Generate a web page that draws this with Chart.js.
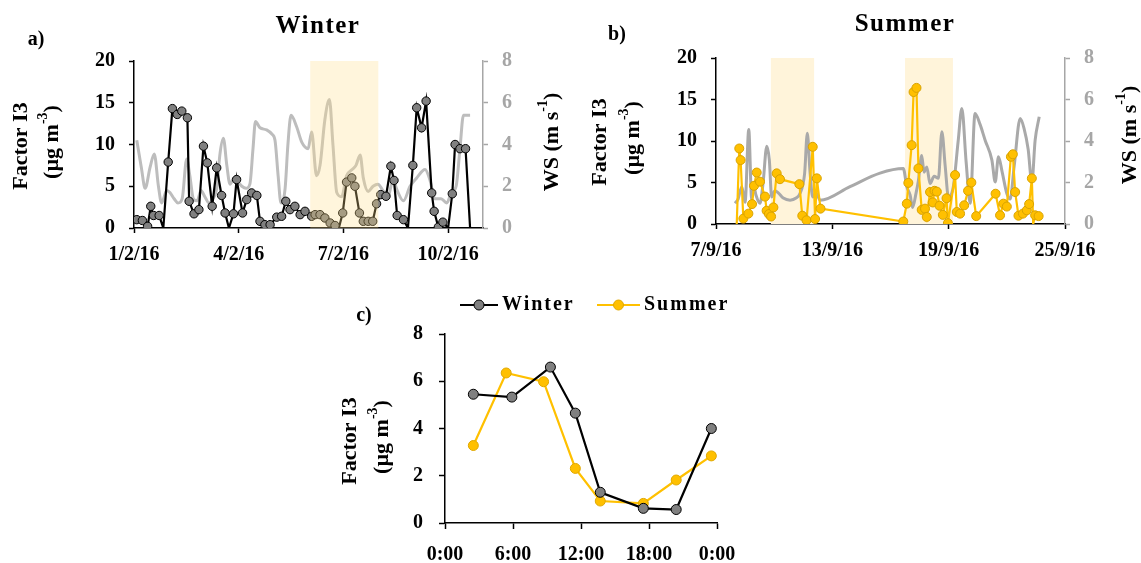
<!DOCTYPE html>
<html>
<head>
<meta charset="utf-8">
<script src="https://cdn.jsdelivr.net/npm/chart.js@4/dist/chart.umd.min.js"></script>
<style>
  html, body { margin: 0; padding: 0; background: #fff; }
  body { width: 1141px; height: 563px; position: relative; overflow: hidden; }
  canvas { position: absolute; }
</style>
</head>
<body>
<canvas id="ca" width="570" height="275" style="left:0;top:0"></canvas>
<canvas id="cb" width="571" height="275" style="left:570px;top:0"></canvas>
<canvas id="cc" width="420" height="283" style="left:330px;top:280px"></canvas>
<script>
// ---------- a) Winter: Factor I3 (days after 1 Feb 2016) ----------
const winterDays = [0.08, 0.24, 0.39, 0.48, 0.56, 0.72, 0.84, 0.98, 1.10, 1.24, 1.37, 1.53, 1.58, 1.72, 1.86,
  1.99, 2.10, 2.24, 2.37, 2.51, 2.61, 2.72, 2.85, 2.94, 3.11, 3.23, 3.37, 3.52, 3.61, 3.75, 3.90, 4.09, 4.23,
  4.35, 4.47, 4.61, 4.76, 4.90, 5.09, 5.19, 5.33, 5.47, 5.62, 5.76, 5.87, 5.98, 6.09, 6.24, 6.33, 6.46, 6.57,
  6.71, 6.84, 6.95, 7.07, 7.22, 7.36, 7.45, 7.54, 7.72, 7.85, 7.99, 8.10, 8.24, 8.37, 8.53, 8.60, 8.72, 8.85,
  9.00, 9.12, 9.20, 9.34, 9.50, 9.63];
const winterI3 = [1.0, 0.9, 0.2, 2.6, 1.5, 1.5, 0, 7.9, 14.3, 13.6, 14.0, 13.2, 3.2, 1.7, 2.2,
  9.8, 7.8, 2.6, 7.2, 3.9, 1.8, 0, 1.7, 5.8, 1.8, 3.4, 4.2, 3.9, 0.8, 0.4, 0.4, 1.3, 1.4,
  3.2, 2.2, 2.6, 1.6, 2.0, 1.4, 1.6, 1.6, 1.2, 0.6, 0.3, 0, 1.8, 5.5, 6.0, 5.0, 1.8, 0.8,
  0.8, 0.8, 2.9, 4.0, 3.8, 7.4, 5.7, 1.5, 1.0, 0, 7.5, 14.4, 12.0, 15.2, 4.2, 2.0, 0.1, 0.7,
  0, 4.1, 10.0, 9.5, 9.5, 0];
// ---------- a) Winter: wind speed ----------
const winterWsDays = [0.08, 0.21, 0.32, 0.46, 0.58, 0.70, 0.79, 0.94, 1.03, 1.15, 1.26, 1.38, 1.51, 1.60, 1.70,
  1.81, 1.92, 2.03, 2.15, 2.26, 2.38, 2.46, 2.56, 2.66, 2.75, 2.87, 2.98, 3.09, 3.21, 3.32, 3.41, 3.48, 3.61,
  3.80, 3.95, 4.04, 4.13, 4.21, 4.33, 4.41, 4.50, 4.66, 4.81, 4.99, 5.09, 5.23, 5.33, 5.47, 5.60, 5.70, 5.81,
  5.95, 6.09, 6.25, 6.36, 6.48, 6.57, 6.71, 6.85, 6.99, 7.13, 7.28, 7.42, 7.54, 7.72, 7.91, 8.10, 8.34, 8.48,
  8.62, 8.80, 8.96, 9.10, 9.23, 9.34, 9.44, 9.63];
const winterWs = [4.2, 2.9, 1.9, 2.9, 3.55, 2.0, 1.2, 1.8, 1.7, 1.4, 1.2, 1.4, 3.3, 2.5, 1.4,
  1.3, 1.8, 1.5, 1.2, 1.4, 2.0, 3.5, 4.3, 3.0, 2.1, 2.4, 2.2, 2.0, 1.9, 2.1, 3.8, 5.1, 4.8,
  4.7, 4.5, 4.2, 2.5, 1.2, 1.9, 4.0, 5.4, 4.85, 4.1, 3.8, 4.6, 2.5, 3.0, 5.2, 6.15, 4.0, 1.7,
  1.5, 2.5, 2.8, 3.0, 3.5, 2.4, 1.75, 2.0, 2.1, 1.8, 1.5, 2.3, 1.8, 1.3, 2.0, 2.4, 2.8, 2.3,
  1.4, 1.4, 1.2, 1.7, 2.0, 3.8, 5.4, 5.4];
const winterTickDays = [0, 3, 6, 9];
const winterTickLabels = ['1/2/16', '4/2/16', '7/2/16', '10/2/16'];
const winterShade = [[5.05, 7.0]];

// ---------- b) Summer: Factor I3 (days after 7 Sep 2016) ----------
const summerDays = [1.07, 1.20, 1.27, 1.41, 1.67, 1.86, 1.96, 2.10, 2.27, 2.53, 2.61, 2.73, 2.84, 2.96, 3.13,
  3.30, 4.30, 4.45, 4.67, 4.99, 5.11, 5.20, 5.39, 9.66, 9.84, 9.92, 10.09, 10.19, 10.34, 10.44, 10.61, 10.78,
  10.87, 11.04, 11.18, 11.27, 11.39, 11.53, 11.70, 11.89, 11.96, 12.33, 12.42, 12.59, 12.80, 13.00, 13.17,
  13.42, 14.42, 14.65, 14.82, 15.00, 15.21, 15.31, 15.43, 15.60, 15.83, 16.03, 16.15, 16.29, 16.36, 16.46, 16.64];
const summerI3 = [0, 9.1, 7.7, 0.65, 1.25, 2.4, 4.6, 6.2, 5.1, 3.3, 1.6, 1.2, 0.9, 2.0, 6.1,
  5.4, 4.8, 1.0, 0.45, 9.3, 0.6, 5.5, 1.85, 0.3, 2.45, 4.95, 9.5, 15.9, 16.4, 6.7, 1.7, 1.85,
  0.85, 3.85, 2.6, 4.0, 3.9, 2.2, 1.1, 3.1, 0.1, 5.9, 1.45, 1.25, 2.25, 4.0, 5.0,
  0.95, 3.65, 1.05, 2.45, 2.1, 8.1, 8.4, 3.85, 1.0, 1.25, 1.65, 2.4, 5.5, 0, 1.05, 0.95];
// ---------- b) Summer: wind speed ----------
const summerWsDays = [0.98, 1.14, 1.33, 1.50, 1.69, 1.84, 1.92, 2.06, 2.27, 2.43, 2.62, 2.75, 2.87, 3.04, 3.21,
  3.47, 3.82, 4.13, 4.33, 4.57, 4.71, 4.85, 4.99, 5.16, 5.37, 6.91, 8.46, 9.66, 9.84, 10.01, 10.14, 10.32,
  10.44, 10.61, 10.73, 10.87, 11.04, 11.25, 11.47, 11.65, 11.82, 11.99, 12.24, 12.49, 12.68, 12.90, 13.11,
  13.36, 13.62, 13.88, 14.23, 14.40, 14.57, 14.76, 15.00, 15.17, 15.38, 15.69, 15.89, 16.10, 16.29, 16.46, 16.67];
const summerWs = [1.0, 1.2, 1.8, 1.05, 4.55, 1.2, 1.95, 1.4, 1.0, 2.0, 3.75, 3.1, 1.3, 1.6, 1.5,
  1.25, 1.15, 1.25, 1.47, 2.43, 4.37, 2.5, 1.3, 1.5, 1.14, 1.8, 2.45, 2.67, 1.8, 1.4, 0.8, 1.5,
  2.1, 3.3, 2.5, 2.75, 1.95, 2.3, 2.2, 4.44, 2.8, 1.3, 1.8, 4.0, 5.57, 3.0, 1.0,
  5.33, 4.8, 4.04, 3.08, 2.03, 3.24, 2.5, 1.47, 1.2, 2.8, 5.09, 4.6, 3.6, 2.0, 4.04, 5.17];
const summerTickDays = [0, 6, 12, 18];
const summerTickLabels = ['7/9/16', '13/9/16', '19/9/16', '25/9/16'];
const summerShade = [[2.83, 5.06], [9.75, 12.22]];

// ---------- c) Diurnal profile ----------
const diurnalWinterHours = [2.5, 5.9, 9.3, 11.5, 13.7, 17.5, 20.4, 23.5];
const diurnalWinter = [5.45, 5.33, 6.6, 4.65, 1.3, 0.62, 0.57, 4.0];
const diurnalSummerHours = [2.5, 5.4, 8.7, 11.5, 13.7, 17.5, 20.4, 23.5];
const diurnalSummer = [3.28, 6.35, 5.98, 2.31, 0.93, 0.83, 1.82, 2.84];
const hourTicks = [0, 6, 12, 18, 24];
const hourTickLabels = ['0:00', '6:00', '12:00', '18:00', '0:00'];

// ---------- shared styling ----------
const SERIF = "'Liberation Serif', 'Times New Roman', serif";
Chart.defaults.font.family = SERIF;
Chart.defaults.font.weight = 'bold';
Chart.defaults.color = '#000';
Chart.defaults.animation = false;
Chart.defaults.plugins.legend.display = false;
Chart.defaults.plugins.tooltip.enabled = false;

const pts = (xs, ys) => xs.map((x, i) => ({ x, y: ys[i] }));
const markerRadius = r => ctx => (ctx.raw && ctx.raw.y === 0 ? 0 : r);

function axisLook(color, tickLen, extra) {
  return Object.assign({
    border: { display: true, color, width: 1.5 },
    grid: { display: true, drawOnChartArea: false, drawTicks: true, tickLength: tickLen, tickWidth: 1.5, tickColor: color }
  }, extra);
}
function fixedTicks(values) {
  return scale => { scale.ticks = values.map(v => ({ value: v })); };
}

// text helpers
function text(ctx, str, x, y, size, opts = {}) {
  ctx.save();
  ctx.font = `bold ${size}px ${SERIF}`;
  ctx.fillStyle = opts.color || '#000';
  ctx.textAlign = opts.align || 'center';
  ctx.textBaseline = 'middle';
  if ('letterSpacing' in ctx) ctx.letterSpacing = (opts.spacing || 0) + 'px';
  ctx.fillText(str, x, y);
  ctx.restore();
}
// vertical axis title with optional superscript parts: [[text, isSup], ...]
function vTitle(ctx, parts, cx, cy, size) {
  ctx.save();
  ctx.translate(cx, cy);
  ctx.rotate(-Math.PI / 2);
  ctx.fillStyle = '#000';
  ctx.textBaseline = 'middle';
  ctx.textAlign = 'left';
  const supSize = Math.round(size * 0.65);
  let total = 0;
  const widths = parts.map(([t, sup]) => {
    ctx.font = `bold ${sup ? supSize : size}px ${SERIF}`;
    const w = ctx.measureText(t).width;
    total += w;
    return w;
  });
  let x = -total / 2;
  parts.forEach(([t, sup], i) => {
    ctx.font = `bold ${sup ? supSize : size}px ${SERIF}`;
    ctx.fillText(t, x, sup ? -size * 0.38 : 0);
    x += widths[i];
  });
  ctx.restore();
}

const shadePlugin = {
  id: 'shade',
  beforeDatasetsDraw(chart, args, o) { if (!o.over) drawShade(chart, o); },
  afterDatasetsDraw(chart, args, o) { if (o.over) drawShade(chart, o); }
};
function drawShade(chart, o) {
  const { ctx, chartArea: a, scales: { x } } = chart;
  ctx.save();
  ctx.fillStyle = o.color;
  (o.spans || []).forEach(([s, e]) => {
    const x1 = x.getPixelForValue(s), x2 = x.getPixelForValue(e);
    ctx.fillRect(x1, a.top, x2 - x1, a.bottom - a.top);
  });
  ctx.restore();
}
const annotate = {
  id: 'annotate',
  afterDraw(chart, args, o) { if (o.draw) o.draw(chart.ctx); }
};

function timePanel(el, cfg) {
  return new Chart(document.getElementById(el), {
    type: 'line',
    data: {
      datasets: [
        {
          label: 'Factor I3', data: pts(cfg.days, cfg.values), yAxisID: 'y',
          borderColor: cfg.lineColor, borderWidth: 2.2,
          pointBackgroundColor: cfg.markerFill, pointBorderColor: cfg.markerEdge, pointBorderWidth: 1,
          pointRadius: markerRadius(cfg.markerR), tension: 0
        },
        {
          label: 'WS', data: pts(cfg.wsDays, cfg.ws), yAxisID: 'y2',
          borderColor: cfg.wsColor, borderWidth: 3, pointRadius: 0,
          cubicInterpolationMode: 'monotone'
        }
      ]
    },
    options: {
      responsive: false,
      devicePixelRatio: 1,
      layout: { padding: { top: cfg.area.top, left: 0, right: 0, bottom: 0 } },
      scales: {
        x: axisLook('#000', 5, {
          type: 'linear', min: 0, max: cfg.xMax,
          afterBuildTicks: fixedTicks(cfg.tickDays),
          afterFit: s => { s.height = cfg.h - cfg.area.bottom; },
          ticks: {
            autoSkip: false, maxRotation: 0, padding: 10,
            font: { size: 20, weight: 'bold' },
            callback: v => cfg.tickLabels[cfg.tickDays.indexOf(v)]
          }
        }),
        y: axisLook('#000', 5, {
          position: 'left', min: 0, max: 20,
          afterFit: s => { s.width = cfg.area.left; },
          ticks: { stepSize: 5, padding: 14, font: { size: 20, weight: 'bold' } }
        }),
        y2: axisLook('#A6A6A6', 5, {
          position: 'right', min: 0, max: 8,
          afterFit: s => { s.width = cfg.w - cfg.area.right; },
          ticks: { stepSize: 2, padding: 14, color: '#A6A6A6', font: { size: 20, weight: 'bold' } }
        })
      },
      plugins: {
        shade: { spans: cfg.shade, color: cfg.shadeColor, over: cfg.shadeOver },
        annotate: { draw: cfg.draw }
      }
    },
    plugins: [shadePlugin, annotate]
  });
}

// a) Winter
timePanel('ca', {
  w: 570, h: 275, area: { left: 134, right: 483, top: 61, bottom: 228 },
  days: winterDays, values: winterI3, wsDays: winterWsDays, ws: winterWs,
  xMax: 10, tickDays: winterTickDays, tickLabels: winterTickLabels,
  lineColor: '#000', markerFill: '#808080', markerEdge: '#000', markerR: 4.2,
  wsColor: '#BDBDBD',
  shade: winterShade, shadeColor: 'rgba(255, 222, 140, 0.3)', shadeOver: true,
  draw: ctx => {
    text(ctx, 'a)', 36, 40, 20);
    text(ctx, 'Winter', 318, 27, 25, { spacing: 1.5 });
    vTitle(ctx, [['Factor I3', false]], 21, 146, 22);
    vTitle(ctx, [['(µg m', false], ['-3', true], [')', false]], 52, 142, 22);
    vTitle(ctx, [['WS (m s', false], ['-1', true], [')', false]], 552, 142, 22);
  }
});

// b) Summer
timePanel('cb', {
  w: 571, h: 275, area: { left: 146, right: 495, top: 58, bottom: 224 },
  days: summerDays, values: summerI3, wsDays: summerWsDays, ws: summerWs,
  xMax: 18, tickDays: summerTickDays, tickLabels: summerTickLabels,
  lineColor: '#FFC000', markerFill: '#FFC000', markerEdge: '#D9A300', markerR: 4.5,
  wsColor: '#A9A9A9',
  shade: summerShade, shadeColor: '#FFF4DA', shadeOver: false,
  draw: ctx => {
    text(ctx, 'b)', 47, 35, 20);
    text(ctx, 'Summer', 335, 25, 25, { spacing: 1.5 });
    vTitle(ctx, [['Factor I3', false]], 30, 142, 22);
    vTitle(ctx, [['(µg m', false], ['-3', true], [')', false]], 63, 138, 22);
    vTitle(ctx, [['WS (m s', false], ['-1', true], [')', false]], 560, 135, 22);
  }
});

// c) Diurnal cycle
new Chart(document.getElementById('cc'), {
  type: 'line',
  data: {
    datasets: [
      {
        label: 'Winter', data: pts(diurnalWinterHours, diurnalWinter),
        borderColor: '#000', borderWidth: 2.2,
        pointBackgroundColor: '#808080', pointBorderColor: '#000', pointBorderWidth: 1, pointRadius: 5
      },
      {
        label: 'Summer', data: pts(diurnalSummerHours, diurnalSummer),
        borderColor: '#FFC000', borderWidth: 2.2,
        pointBackgroundColor: '#FFC000', pointBorderColor: '#E0A800', pointBorderWidth: 1, pointRadius: 5
      }
    ]
  },
  options: {
    responsive: false,
    devicePixelRatio: 1,
    layout: { padding: { top: 54, left: 0, right: 33, bottom: 0 } },
    scales: {
      x: axisLook('#000', 6, {
        type: 'linear', min: 0, max: 24,
        afterBuildTicks: fixedTicks(hourTicks),
        afterFit: s => { s.height = 283 - 243; },
        ticks: {
          autoSkip: false, maxRotation: 0, padding: 14,
          font: { size: 20, weight: 'bold' },
          callback: v => hourTickLabels[hourTicks.indexOf(v)]
        }
      }),
      y: axisLook('#000', 6, {
        position: 'left', min: 0, max: 8,
        afterFit: s => { s.width = 115; },
        ticks: { stepSize: 2, padding: 16, font: { size: 20, weight: 'bold' } }
      })
    },
    plugins: {
      annotate: {
        draw: ctx => {
          text(ctx, 'c)', 34, 36, 20);
          vTitle(ctx, [['Factor I3', false]], 20, 161, 22);
          vTitle(ctx, [['(µg m', false], ['-3', true], [')', false]], 52, 157, 22);
          // legend: line + marker + label
          const items = [
            { x0: 130, x1: 168, label: 'Winter', line: '#000', fill: '#808080', edge: '#000' },
            { x0: 267, x1: 310, label: 'Summer', line: '#FFC000', fill: '#FFC000', edge: '#E0A800' }
          ];
          items.forEach(it => {
            ctx.save();
            ctx.strokeStyle = it.line; ctx.lineWidth = 2.2;
            ctx.beginPath(); ctx.moveTo(it.x0, 25); ctx.lineTo(it.x1, 25); ctx.stroke();
            ctx.beginPath(); ctx.arc((it.x0 + it.x1) / 2, 25, 5, 0, Math.PI * 2);
            ctx.fillStyle = it.fill; ctx.fill();
            ctx.lineWidth = 1; ctx.strokeStyle = it.edge; ctx.stroke();
            ctx.restore();
            text(ctx, it.label, it.x1 + 4, 25, 20, { align: 'left', spacing: 2 });
          });
        }
      }
    }
  },
  plugins: [annotate]
});
</script>
</body>
</html>
